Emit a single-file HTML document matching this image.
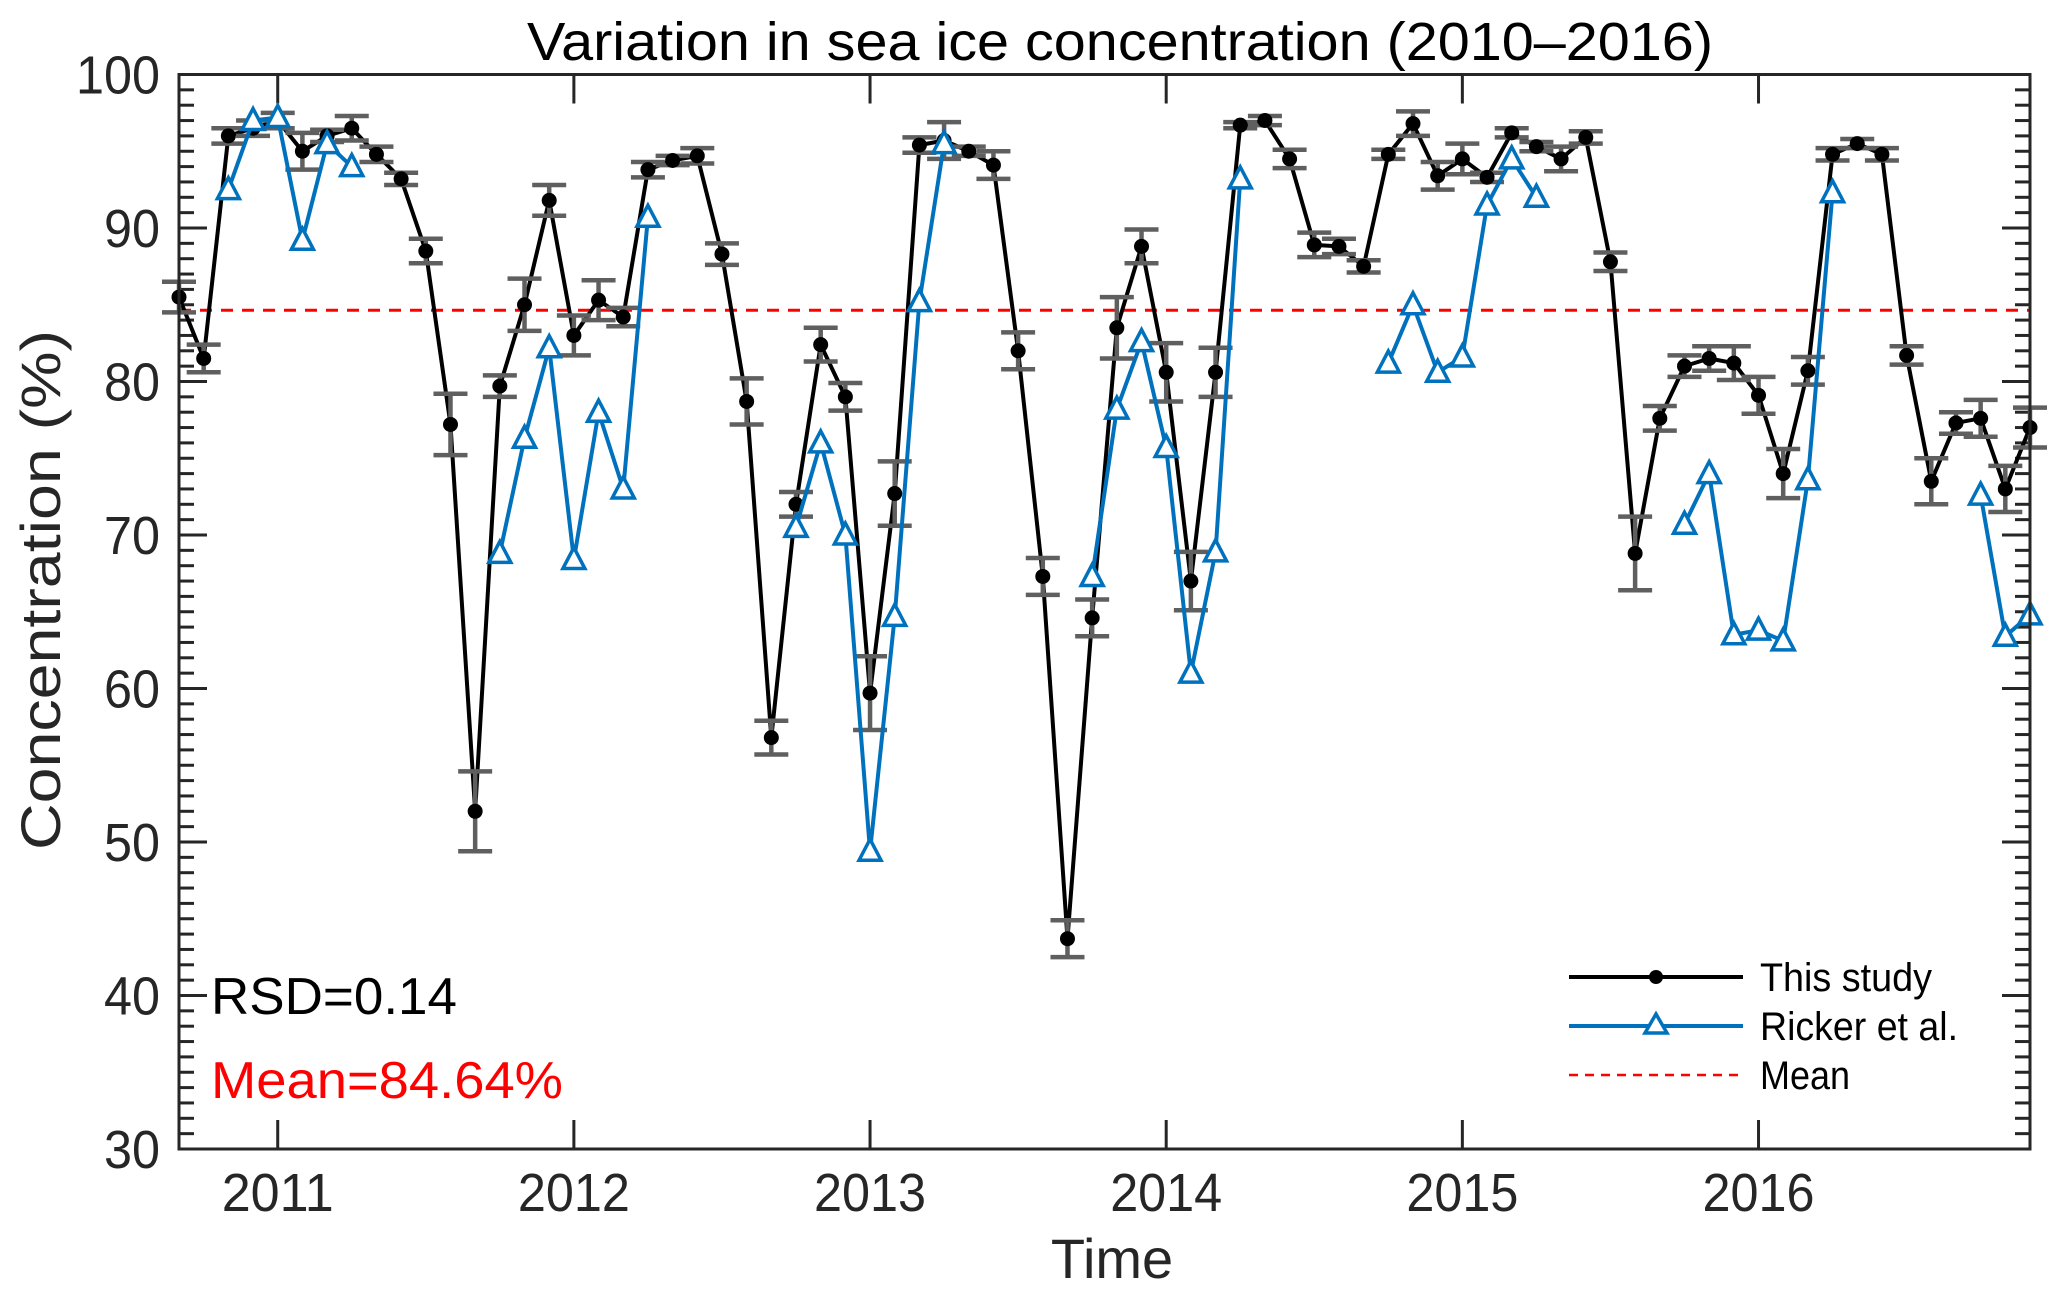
<!DOCTYPE html>
<html><head><meta charset="utf-8"><style>
html,body{margin:0;padding:0;background:#fff}
svg{display:block;font-family:"Liberation Sans",Arial,sans-serif}
</style></head><body>
<svg id="chart" width="2067" height="1296" viewBox="0 0 2067 1296" xmlns="http://www.w3.org/2000/svg">
<rect x="0" y="0" width="2067" height="1296" fill="#fff"/>
<text x="1120" y="60" font-size="54" text-anchor="middle" textLength="1186" lengthAdjust="spacingAndGlyphs" fill="#000">Variation in sea ice concentration (2010–2016)</text>
<g id="grid"></g>
<g id="marks"></g>
<rect x="179" y="74.5" width="1851" height="1074.5" fill="none" stroke="#262626" stroke-width="3"/>
<text transform="translate(60,590) rotate(-90)" font-size="56" text-anchor="middle" textLength="520" lengthAdjust="spacingAndGlyphs" fill="#262626">Concentration (%)</text>
<text x="1112" y="1278" font-size="56" text-anchor="middle" fill="#262626">Time</text>
<text x="211" y="1014" font-size="52" textLength="246" lengthAdjust="spacingAndGlyphs" fill="#000">RSD=0.14</text>
<text x="211" y="1098" font-size="52" textLength="352" lengthAdjust="spacingAndGlyphs" fill="#ff0000">Mean=84.64%</text>
<g>
  <line x1="1569" y1="977" x2="1743" y2="977" stroke="#000" stroke-width="4"/>
  <circle cx="1656" cy="977" r="7" fill="#000"/>
  <text x="1760" y="991" font-size="40" textLength="172" lengthAdjust="spacingAndGlyphs" fill="#000">This study</text>
  <line x1="1569" y1="1026" x2="1743" y2="1026" stroke="#0072BD" stroke-width="4"/>
  <polygon points="1656,1014 1667,1033 1645,1033" fill="#fff" stroke="#0072BD" stroke-width="3.5"/>
  <text x="1760" y="1040" font-size="40" textLength="198" lengthAdjust="spacingAndGlyphs" fill="#000">Ricker et al.</text>
  <line x1="1569" y1="1075" x2="1743" y2="1075" stroke="#ff0000" stroke-width="2.5" stroke-dasharray="9,7"/>
  <text x="1760" y="1089" font-size="40" textLength="90" lengthAdjust="spacingAndGlyphs" fill="#000">Mean</text>
</g>
</svg>
<script>
const thisStudy = [85.5,81.5,96,96.5,97,95,96,96.5,94.8,93.2,88.5,77.2,52,79.7,85,91.8,83,85.3,84.2,93.8,94.4,94.7,88.3,78.7,56.8,72,82.4,79,59.7,72.7,95.4,95.7,95,94.1,82,67.3,43.7,64.6,83.5,88.8,80.6,67,80.6,96.7,97,94.5,88.9,88.8,87.5,94.8,96.8,93.4,94.5,93.3,96.2,95.3,94.5,95.9,87.8,68.8,77.6,81,81.5,81.2,79.1,74,80.7,94.8,95.5,94.8,81.7,73.5,77.3,77.6,73,77];
const errors = [1,0.9,0.5,0.5,0.5,1.2,0.4,0.8,0.5,0.4,0.8,2,2.6,0.7,1.7,1,1.3,1.3,0.6,0.5,0.3,0.5,0.7,1.5,1.1,0.8,1.1,0.9,2.4,2.1,0.5,1.2,0.3,0.9,1.2,1.2,1.2,1.2,2,1.1,1.9,1.9,1.6,0.2,0.3,0.6,0.8,0.5,0.4,0.3,0.8,0.9,1,0.3,0.3,0.3,0.8,0.4,0.6,2.4,0.8,0.7,0.8,1.1,1.2,1.6,0.9,0.4,0.3,0.4,0.6,1.5,0.7,1.2,1.5,1.3];
const ricker = [null,null,92.5,97,97.2,89.2,95.5,94,null,null,null,null,null,68.8,76.3,82.2,68.4,78,73,90.7,null,null,null,null,null,70.5,76,70,49.4,64.7,85.2,95.5,null,null,null,null,null,67.3,78.2,82.6,75.7,61,68.9,93.2,null,null,null,null,null,81.2,85,80.6,81.6,91.5,94.5,92,null,null,null,null,null,70.7,74,63.5,63.8,63.1,73.6,92.3,null,null,null,null,null,72.6,63.4,64.8];
const meanValue = 84.64;
const yTicks = [30,40,50,60,70,80,90,100];
const xTickLabels = ["2011","2012","2013","2014","2015","2016"];
const xTickMonthIndex = [4,16,28,40,52,64];

const X0=179, X1=2030, Y0=1149, Y1=74.5, NM=75;
const xs = i => X0 + (X1-X0)*i/NM;
const ys = v => Y0 - (v-30)/70*(Y0-Y1);
const NS="http://www.w3.org/2000/svg";
function mk(tag, attrs, parent){const e=document.createElementNS(NS,tag);for(const k in attrs)e.setAttribute(k,attrs[k]);parent.appendChild(e);return e;}
const grid=document.getElementById('grid'), marks=document.getElementById('marks');

for(let v=30; v<=100; v++){
  const y=ys(v), major=(v%10===0), L=major?28:15;
  const t1=mk('line',{x1:X0,y1:y,x2:X0+L,y2:y,stroke:'#262626','stroke-width':3},grid);
  
  
  const t2=mk('line',{x1:X1,y1:y,x2:X1-L,y2:y,stroke:'#262626','stroke-width':3},grid);
  
  
}
yTicks.forEach(v=>{
  const t=mk('text',{x:160,y:ys(v)+19,'font-size':54,'text-anchor':'end',fill:'#262626',textLength:String(v).length*28,lengthAdjust:'spacingAndGlyphs'},grid);
  t.textContent=v;
  
  
});
xTickMonthIndex.forEach((m,k)=>{
  const x=xs(m);
  const a=mk('line',{x1:x,y1:Y0,x2:x,y2:Y0-29,stroke:'#262626','stroke-width':3},grid);
  
  
  const b=mk('line',{x1:x,y1:Y1,x2:x,y2:Y1+29,stroke:'#262626','stroke-width':3},grid);
  
  
  const t=mk('text',{x:x,y:1211,'font-size':54,'text-anchor':'middle',fill:'#262626',textLength:112,lengthAdjust:'spacingAndGlyphs'},grid);
  t.textContent=xTickLabels[k];
  
  
});

const ml=mk('line',{x1:X0,y1:ys(meanValue),x2:X1,y2:ys(meanValue),stroke:'#ff0000','stroke-width':3,'stroke-dasharray':'12,9'},marks);



const pts=thisStudy.map((v,i)=>xs(i)+','+ys(v)).join(' ');
const pl=mk('polyline',{points:pts,fill:'none',stroke:'#000','stroke-width':4,'stroke-linejoin':'round'},marks);



thisStudy.forEach((v,i)=>{
  const x=xs(i), e=errors[i], yt=ys(v+e), yb=ys(v-e);
  const g=mk('g',{stroke:'#5f5f5f','stroke-width':4.5},marks);
  
  
  mk('line',{x1:x,y1:yt,x2:x,y2:yb},g);
  mk('line',{x1:x-17,y1:yt,x2:x+17,y2:yt},g);
  mk('line',{x1:x-17,y1:yb,x2:x+17,y2:yb},g);
});
thisStudy.forEach((v,i)=>{
  const c=mk('circle',{cx:xs(i),cy:ys(v),r:7.5,fill:'#000'},marks);
  
  
});

let seg=[];
const segs=[];
ricker.forEach((v,i)=>{ if(v===null){ if(seg.length)segs.push(seg); seg=[]; } else seg.push([xs(i),ys(v)]); });
if(seg.length)segs.push(seg);
segs.forEach(s=>{
  const p=mk('polyline',{points:s.map(q=>q.join(',')).join(' '),fill:'none',stroke:'#0072BD','stroke-width':4,'stroke-linejoin':'round'},marks);
  
  
});
ricker.forEach((v,i)=>{
  if(v===null) return;
  const x=xs(i), y=ys(v);
  const t=mk('polygon',{points:`${x},${y-12} ${x+11},${y+9} ${x-11},${y+9}`,fill:'#fff',stroke:'#0072BD','stroke-width':3.5},marks);
  
  
});
</script>
</body></html>
